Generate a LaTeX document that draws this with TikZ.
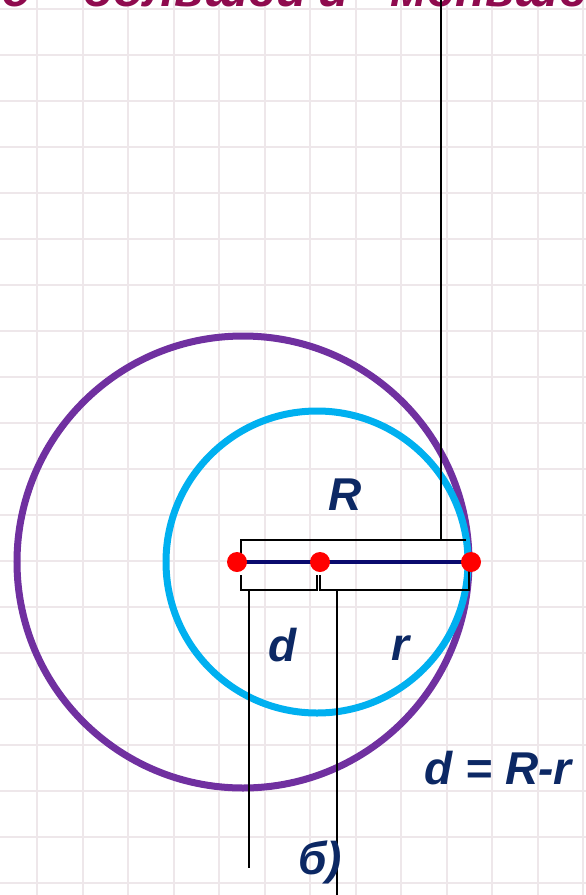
\documentclass[tikz,border=0pt]{standalone}
\usepackage{fontspec}
\setmainfont{Liberation Sans}
\definecolor{gridc}{RGB}{238,231,234}
\definecolor{outerc}{RGB}{112,48,160}
\definecolor{innerc}{RGB}{0,176,240}
\definecolor{navy}{RGB}{10,10,110}
\definecolor{inkc}{RGB}{12,40,100}
\definecolor{titlec}{RGB}{143,10,78}
\begin{document}
\begin{tikzpicture}[x=1pt,y=-1pt,
  ink/.style={text=inkc,font=\fontsize{46}{46}\selectfont\bfseries\itshape},
  ttl/.style={anchor=base west,text=titlec,inner sep=0pt,font=\fontsize{50}{50}\selectfont\bfseries\itshape},
  brk/.style={draw=black,line width=2.5pt},
  stem/.style={draw=black,line width=1.3pt},
  dot/.style={circle,fill=red,inner sep=0pt,minimum size=20pt}]
\useasboundingbox (0,0) rectangle (586,895);
\fill[white] (0,0) rectangle (586,895);
% grid
\begin{scope}
\clip (0,0) rectangle (586,895);
\foreach \i in {0,...,12} {\draw[gridc,line width=2pt] (37+45.5*\i,0) -- (37+45.5*\i,895);}
\foreach \j in {0,...,19} {\draw[gridc,line width=2pt] (0,9+46*\j) -- (586,9+46*\j);}
\node[ttl] (t1) at (-12,6) {ю};
\node[ttl] (t2) at (82,6) {большей};
\node[ttl] (t3) at (318,6) {и};
\node[ttl] (t4) at (390,6) {меньшей};
\end{scope}
% circles
\node[circle,draw=outerc,line width=7pt,minimum size=452pt,inner sep=0pt] (big) at (243,562) {};
\node[circle,draw=innerc,line width=7pt,minimum size=302pt,inner sep=0pt] (small) at (317,562) {};
% centre line
\coordinate (A) at (237,562);
\coordinate (B) at (320,562);
\coordinate (C) at (471,562);
\draw[navy,line width=4pt] (A) -- (C);
% brackets
\coordinate (Rl) at (241,562);
\coordinate (Rr) at (466,540);
\coordinate (Rtop) at (441,0);
\draw[brk] (Rl) |- (Rr);
\coordinate (Rm) at (441,540);
\draw[stem] (Rm) -- (Rtop);
\draw[brk] (441,540) -- (441,525);
\coordinate (dl) at (241,575);
\coordinate (dr) at (317,575);
\draw[brk] (dl) -- (241,590) -- (317,590) -- (dr);
\coordinate (rl) at (320,575);
\coordinate (rr) at (469,565);
\draw[brk] (rl) -- (320,590) -- (469,590) -- (rr);
\coordinate (ds) at (249,590);
\coordinate (dsend) at (249,868);
\coordinate (rs) at (337,590);
\coordinate (rsend) at (337,895);
\draw[stem] (ds) -- (dsend);
\draw[stem] (rs) -- (rsend);
% dots
\node[dot] (pA) at (A) {};
\node[dot] (pB) at (B) {};
\node[dot] (pC) at (C) {};
% labels
\node[ink] (lR) at (345,495) {R};
\node[ink] (ld) at (283,645) {d};
\node[ink] (lr) at (400,648) {r};
\node[ink] (eq) at (498,768) {d = R-r};
\node[ink] (lb) at (320,862) {б)};
\end{tikzpicture}
\end{document}
